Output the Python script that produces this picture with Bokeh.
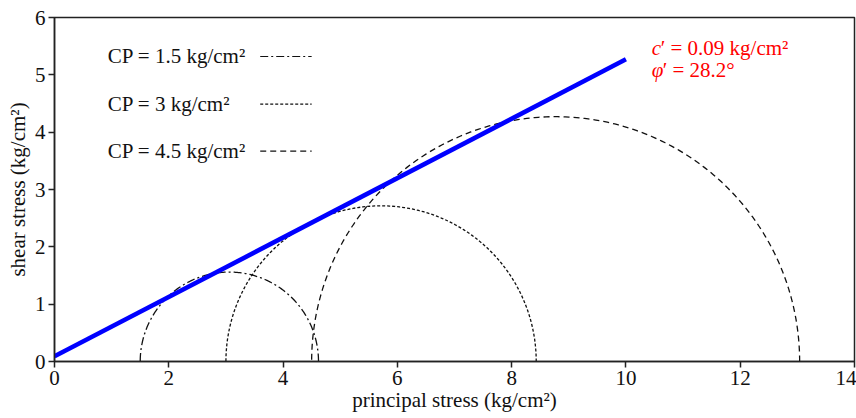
import numpy as np
from bokeh.plotting import figure
from bokeh.models import Range1d, FixedTicker
from bokeh.core.properties import value
from bokeh.embed import file_html
from bokeh.resources import INLINE

# ---- data ----
cp_labels = ["CP = 1.5 kg/cm²", "CP = 3 kg/cm²", "CP = 4.5 kg/cm²"]
sigma3 = [1.5, 3.0, 4.5]          # minor principal stress (kg/cm2)
sigma1 = [4.62, 8.43, 13.04]      # major principal stress (kg/cm2)
dashes = ["8 3 2 3", "3 2", "6 4"]

envelope_x = [0.0, 10.0]
envelope_y = [0.09, 5.27]

x_ticks = [0, 2, 4, 6, 8, 10, 12, 14]
y_ticks = [0, 1, 2, 3, 4, 5, 6]

FONT = "Liberation Serif"
FS = "21px"

p = figure(width=856, height=418, output_backend="svg", toolbar_location=None,
           x_range=Range1d(0, 14), y_range=Range1d(0, 6),
           min_border_left=54, min_border_right=2, min_border_top=17, min_border_bottom=57)
p.frame_width = 800
p.frame_height = 344
p.xgrid.visible = False
p.ygrid.visible = False
p.outline_line_color = "#222222"
p.outline_line_width = 1.5

for ax in (p.xaxis[0], p.yaxis[0]):
    ax.axis_line_color = "#222222"
    ax.axis_line_width = 1.5
    ax.major_tick_line_color = "#222222"
    ax.major_tick_line_width = 1.5
    ax.major_tick_in = 0
    ax.major_tick_out = 6
    ax.minor_tick_line_color = None
    ax.major_label_text_font = FONT
    ax.major_label_text_font_size = FS
    ax.major_label_text_color = "#111111"
    ax.axis_label_text_font = FONT
    ax.axis_label_text_font_size = FS
    ax.axis_label_text_font_style = "normal"
    ax.axis_label_text_color = "#111111"

p.xaxis[0].ticker = FixedTicker(ticks=x_ticks)
p.yaxis[0].ticker = FixedTicker(ticks=y_ticks)
p.xaxis[0].axis_label = "principal stress (kg/cm²)"
p.yaxis[0].axis_label = "shear stress (kg/cm²)"
p.xaxis[0].major_label_standoff = 3
p.xaxis[0].axis_label_standoff = 0
p.yaxis[0].major_label_standoff = 3
p.yaxis[0].axis_label_standoff = 2

# Mohr circles
t = np.linspace(0, np.pi, 200)
for s3, s1, d in zip(sigma3, sigma1, dashes):
    c = (s1 + s3) / 2
    r = (s1 - s3) / 2
    p.line(c + r * np.cos(t), r * np.sin(t), line_color="#111111", line_width=1.3, line_dash=d)

# failure envelope
p.line(envelope_x, envelope_y, line_color="#0000ff", line_width=4.5)

# manual legend
leg_y = [5.32, 4.49, 3.67]
p.text(x=[0.93] * 3, y=leg_y, text=cp_labels, text_font=value(FONT), text_font_size=FS,
       text_baseline="middle", text_color="#111111")
for yy, d in zip(leg_y, dashes):
    p.line([3.6, 4.5], [yy, yy], line_color="#111111", line_width=1.2, line_dash=d)

# annotation
ann_y = [5.47, 5.08]
p.text(x=[10.45, 10.45], y=ann_y, text=["c", "φ"], text_font=value(FONT), text_font_size=FS,
       text_font_style="italic", text_baseline="middle", text_color="#ff0000")
p.text(x=[10.45, 10.45], y=ann_y, text=["′ = 0.09 kg/cm²", "′ = 28.2°"], x_offset=[9, 11],
       text_font=value(FONT), text_font_size=FS, text_baseline="middle", text_color="#ff0000")

open("out.html", "w").write(file_html(p, INLINE))
